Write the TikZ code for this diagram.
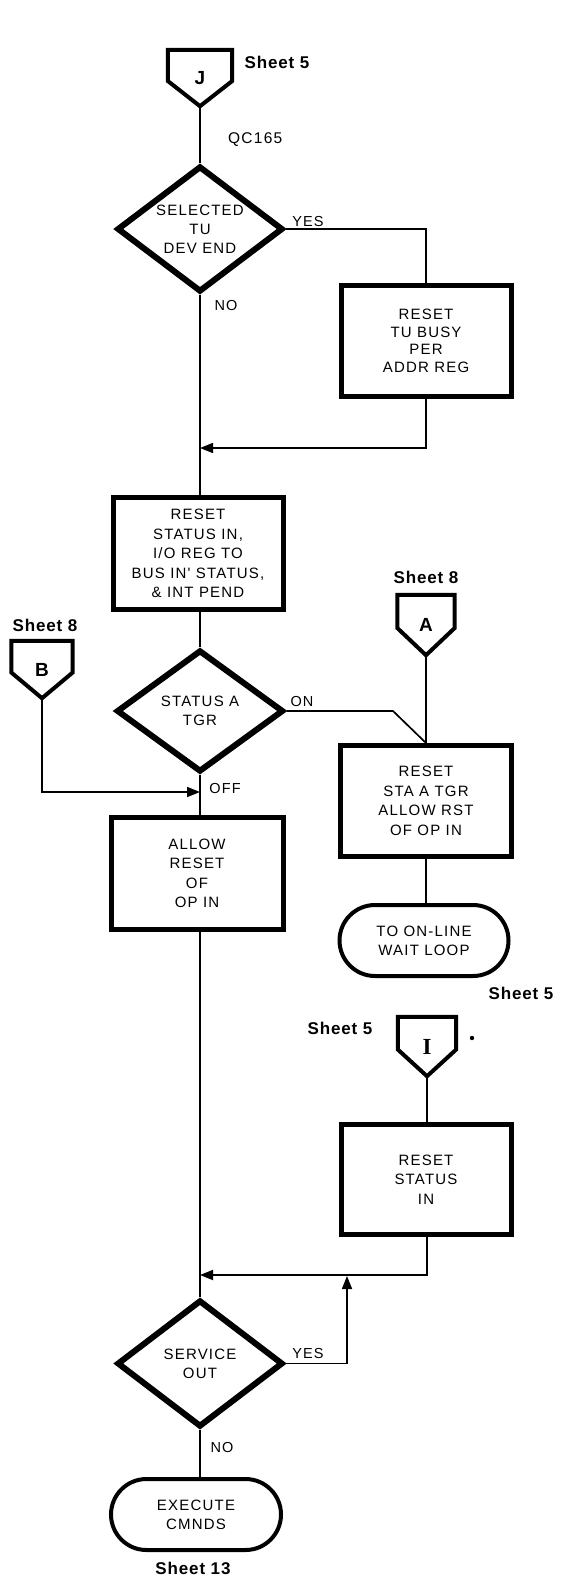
\documentclass[tikz,border=0pt]{standalone}
\usepackage{fontspec}
\setmainfont{Liberation Sans}
\newfontfamily\boxfont[LetterSpace=8]{Liberation Sans}
\newfontfamily\sheetfont[LetterSpace=5]{Liberation Sans Bold}
\newfontfamily\conserif{Liberation Serif Bold}
\usetikzlibrary{shapes.geometric,shapes.misc,arrows.meta,calc}
\tikzset{
  flow/.style={line width=1.7pt},
  arr/.style={flow,-{Triangle[length=13pt,width=10pt]}},
  procbox/.style={draw,line width=5pt,rectangle,inner sep=0pt,align=center,
    font=\boxfont\fontsize{15}{19.5}\selectfont},
  decision/.style={draw,line width=6pt,diamond,aspect=1.3,inner sep=0pt,align=center,
    font=\boxfont\fontsize{15}{19}\selectfont},
  terminal/.style={draw,line width=4pt,rounded rectangle,inner sep=0pt,align=center,
    font=\boxfont\fontsize{15}{19}\selectfont},
  offpage/.style={rectangle,inner sep=0pt,font=\sheetfont\fontsize{19}{20}\selectfont},
  offline/.style={line width=4pt,line join=miter},
  sheet/.style={inner sep=0pt,font=\sheetfont\fontsize{17}{20}\selectfont},
  lab/.style={inner sep=0pt,font=\boxfont\fontsize{14.5}{16}\selectfont},
}
\begin{document}
\begin{tikzpicture}[x=1pt,y=-1pt]
\fill[white] (0,0) rectangle (587,1579);
\useasboundingbox (0,0) rectangle (587,1579);

% off-page connectors
\node[offpage,minimum width=64pt,minimum height=56pt] (J) at (200,78) {J};
\node[offpage,minimum width=57pt,minimum height=60pt] (A) at (426,625) {A};
\node[offpage,minimum width=61pt,minimum height=57pt] (B) at (42,669.5) {B};
\node[offpage,minimum width=58pt,minimum height=59pt,font=\conserif\fontsize{23}{23}\selectfont] (I) at (427,1046.5) {I};
\foreach \c in {J,A,B,I}{
  \draw[offline] (\c.north west) -- (\c.north east) -- ([yshift=-3pt]\c.east)
    -- (\c.south) -- ([yshift=-3pt]\c.west) -- cycle;
}

% decisions
\node[decision,minimum width=166pt,minimum height=126pt] (d1) at (200,229) {SELECTED\\TU\\DEV END};
\node[decision,minimum width=167pt,minimum height=122pt] (d2) at (200,711) {STATUS A\\TGR};
\node[decision,minimum width=166pt,minimum height=127pt] (d3) at (200,1363.5) {SERVICE\\OUT};

% process boxes
\node[procbox,minimum width=170pt,minimum height=111pt,font=\boxfont\fontsize{15}{17.5}\selectfont] (tub) at (426,341) {RESET\\TU BUSY\\PER\\ADDR REG};
\node[procbox,minimum width=170pt,minimum height=112pt] (rsi) at (198,553.5) {RESET\\STATUS IN,\\I/O REG TO\\BUS IN' STATUS,\\\& INT PEND};
\node[procbox,minimum width=171pt,minimum height=111pt] (rsta) at (426,801) {RESET\\STA A TGR\\ALLOW RST\\OF OP IN};
\node[procbox,minimum width=172pt,minimum height=112pt] (allow) at (197,873.5) {ALLOW\\RESET\\OF\\OP IN};
\node[procbox,minimum width=170pt,minimum height=110pt] (rstin) at (426,1179.5) {RESET\\STATUS\\IN};

% terminals
\node[terminal,minimum width=169pt,minimum height=71pt] (online) at (424,940.5) {TO ON-LINE\\WAIT LOOP};
\node[terminal,minimum width=170pt,minimum height=71pt] (exec) at (196,1514.5) {EXECUTE\\CMNDS};

% junction points
\coordinate (m1) at (200,448);
\coordinate (m2) at (200,792);
\coordinate (m3) at (200,1275);
\coordinate (m4) at (347,1276);
\coordinate (bend) at (393,711);

% flow lines
\draw[flow] (J.south) -- (d1.north);
\draw[flow] (d1.east) -| (tub.north);
\draw[flow] (d1.south) -- (d1.south |- rsi.north);
\draw[arr] (tub.south) |- (m1);
\draw[flow] (rsi.south -| d2.north) -- (d2.north);
\draw[flow] (d2.east) -- (bend) -- (rsta.north);
\draw[flow] (A.south) -- (rsta.north);
\draw[arr] (B.south) |- (m2);
\draw[flow] (d2.south) -- (d2.south |- allow.north);
\draw[flow] (rsta.south) -- (rsta.south |- online.north);
\draw[flow] (allow.south -| d3.north) -- (d3.north);
\draw[flow] (I.south) -- (I.south |- rstin.north);
\draw[arr] (rstin.south -| I.south) |- (m3);
\draw[arr] (d3.east) -| (m4);
\draw[flow] (d3.south) -- (d3.south |- exec.north);

% labels
\node[lab,anchor=west,font=\boxfont\fontsize{15.5}{16}\selectfont] (qc) at (228,140) {QC165};
\node[lab] (yes1) at (308,222) {YES};
\node[lab] (no1) at (226,306) {NO};
\node[lab] (on) at (302,702) {ON};
\node[lab] (off) at (225,788) {OFF};
\node[lab] (yes2) at (308,1353) {YES};
\node[lab] (no2) at (222,1447) {NO};

\node[sheet] (sJ) at (277,62) {Sheet 5};
\node[sheet] (sA) at (426,577) {Sheet 8};
\node[sheet] (sB) at (45,625) {Sheet 8};
\node[sheet] (sO) at (521,993) {Sheet 5};
\node[sheet] (sI) at (340,1028) {Sheet 5};
\node[sheet] (sE) at (193,1568) {Sheet 13};

\fill (472,1038) circle (2.2pt);
\end{tikzpicture}
\end{document}
